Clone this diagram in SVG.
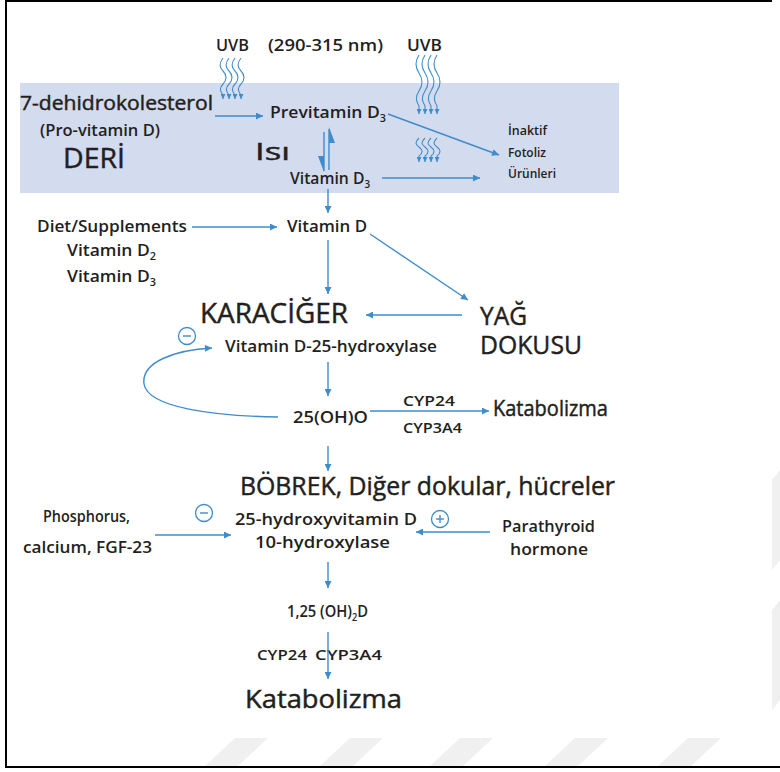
<svg xmlns="http://www.w3.org/2000/svg" width="780" height="772" viewBox="0 0 780 772">
<defs>
<style>
text{font-family:"Open Sans","Noto Sans","DejaVu Sans",sans-serif;fill:#231f20;font-weight:600}
.L{font-weight:400;stroke:#231f20;stroke-width:0.45}
.c{stroke:#3f8ccb;stroke-width:1.4;fill:none}
.w{stroke:#3f8ccb;stroke-width:1.1;fill:none}
.s14{font-size:16px}
.s13{font-size:15px}
.big{font-size:26px}
.sm{font-size:12.5px}
.wm{fill:#f0f0f0}
</style>
<marker id="ah" viewBox="0 0 10 10" refX="10" refY="5" markerWidth="8" markerHeight="7" markerUnits="userSpaceOnUse" orient="auto">
<path d="M0,0 L10,5 L0,10 z" fill="#3f8ccb"/>
</marker>
<marker id="wh" viewBox="0 0 10 10" refX="10" refY="5" markerWidth="5" markerHeight="5" markerUnits="userSpaceOnUse" orient="auto">
<path d="M0,0 L10,5 L0,10 z" fill="#3f8ccb"/>
</marker>
</defs>
<rect width="780" height="772" fill="#ffffff"/>
<g id="watermark">
<polygon class="wm" points="235,738 268,738 238,766 205,766"/>
<polygon class="wm" points="350,738 383,738 353,766 320,766"/>
<polygon class="wm" points="460,738 493,738 463,766 430,766"/>
<polygon class="wm" points="575,738 608,738 578,766 545,766"/>
<polygon class="wm" points="688,738 721,738 691,766 658,766"/>
<polygon class="wm" points="772,480 780,470 780,560 772,570"/>
<polygon class="wm" points="772,610 780,600 780,700 772,710"/>
</g>
<g id="frame" stroke="#000" stroke-width="2" fill="none">
<line x1="5" y1="1" x2="772" y2="1"/>
<line x1="6" y1="0" x2="6" y2="768"/>
<line x1="5" y1="767" x2="780" y2="767"/>
</g>
<g id="skin-band">
<rect x="20" y="83" width="599" height="110" fill="#d3dbef"/>
</g>
<g id="uvb-label-1"><text x="216" y="51" style="font-size:16px" textLength="33" lengthAdjust="spacingAndGlyphs">UVB</text></g>
<g id="wavelength"><text x="268" y="51" style="font-size:16.5px" textLength="115" lengthAdjust="spacingAndGlyphs">(290-315 nm)</text></g>
<g id="uvb-label-2"><text x="407" y="51" style="font-size:16px" textLength="35" lengthAdjust="spacingAndGlyphs">UVB</text></g>
<g id="uvb-rays">
<path class="w" marker-end="url(#wh)" d="M223,58 c-4,5 -4,9 0,13 s4,9 0,13 s-3,7 0,11 l0,4"/>
<path class="w" marker-end="url(#wh)" d="M229,58 c-4,5 -4,9 0,13 s4,9 0,13 s-3,7 0,11 l0,4"/>
<path class="w" marker-end="url(#wh)" d="M235,58 c-4,5 -4,9 0,13 s4,9 0,13 s-3,7 0,11 l0,4"/>
<path class="w" marker-end="url(#wh)" d="M241,58 c-4,5 -4,9 0,13 s4,9 0,13 s-3,7 0,11 l0,4"/>
<path class="w" marker-end="url(#wh)" d="M419,55 c-4,6 -4,12 0,18 s4,12 0,18 s-3,10 0,15 l0,8"/>
<path class="w" marker-end="url(#wh)" d="M425,55 c-4,6 -4,12 0,18 s4,12 0,18 s-3,10 0,15 l0,8"/>
<path class="w" marker-end="url(#wh)" d="M431,55 c-4,6 -4,12 0,18 s4,12 0,18 s-3,10 0,15 l0,8"/>
<path class="w" marker-end="url(#wh)" d="M437,55 c-4,6 -4,12 0,18 s4,12 0,18 s-3,10 0,15 l0,8"/>
<path class="w" marker-end="url(#wh)" d="M419,138 c-4,4 -4,6 0,9 s4,6 0,9 l0,6"/>
<path class="w" marker-end="url(#wh)" d="M425,138 c-4,4 -4,6 0,9 s4,6 0,9 l0,6"/>
<path class="w" marker-end="url(#wh)" d="M431,138 c-4,4 -4,6 0,9 s4,6 0,9 l0,6"/>
<path class="w" marker-end="url(#wh)" d="M437,138 c-4,4 -4,6 0,9 s4,6 0,9 l0,6"/>
</g>
<g id="dehidrokolesterol">
<text x="20" y="110" class="L" style="font-size:19.5px" textLength="193" lengthAdjust="spacingAndGlyphs">7-dehidrokolesterol</text>
<text x="40" y="136" style="font-size:15.5px" textLength="120" lengthAdjust="spacingAndGlyphs">(Pro-vitamin D)</text>
<text x="63" y="168" class="L" style="font-size:27px" textLength="62" lengthAdjust="spacingAndGlyphs">DERİ</text>
</g>
<g id="previtamin"><text x="270" y="118" style="font-size:17px" textLength="116" lengthAdjust="spacingAndGlyphs">Previtamin D<tspan style="font-size:10.5px" baseline-shift="-4">3</tspan></text></g>
<g id="isi"><text x="255" y="160" class="L" style="font-size:23px" textLength="35" lengthAdjust="spacingAndGlyphs">Isı</text></g>
<g id="vitamin-d3-skin"><text x="290" y="184" class="s14" textLength="80" lengthAdjust="spacingAndGlyphs">Vitamin D<tspan style="font-size:10px" baseline-shift="-4">3</tspan></text></g>
<g id="fotoliz">
<text x="508" y="135" class="sm" textLength="39" lengthAdjust="spacingAndGlyphs">İnaktif</text>
<text x="508" y="157" class="sm" textLength="38" lengthAdjust="spacingAndGlyphs">Fotoliz</text>
<text x="508" y="178" class="sm" textLength="48" lengthAdjust="spacingAndGlyphs">Ürünleri</text>
</g>
<g id="diet">
<text x="37" y="232" class="s14" textLength="150" lengthAdjust="spacingAndGlyphs">Diet/Supplements</text>
<text x="67" y="256" class="s14" textLength="89" lengthAdjust="spacingAndGlyphs">Vitamin D<tspan style="font-size:10px" baseline-shift="-4">2</tspan></text>
<text x="67" y="282" class="s14" textLength="89" lengthAdjust="spacingAndGlyphs">Vitamin D<tspan style="font-size:10px" baseline-shift="-4">3</tspan></text>
</g>
<g id="vitamin-d"><text x="287" y="232" class="s14" textLength="80" lengthAdjust="spacingAndGlyphs">Vitamin D</text></g>
<g id="karaciger"><text x="200" y="323" class="L" style="font-size:28px" textLength="148" lengthAdjust="spacingAndGlyphs">KARACİĞER</text></g>
<g id="yag-dokusu">
<text x="480" y="325" class="big L" textLength="47" lengthAdjust="spacingAndGlyphs">YAĞ</text>
<text x="480" y="354" class="big L" textLength="102" lengthAdjust="spacingAndGlyphs">DOKUSU</text>
</g>
<g id="hydroxylase-25">
<circle cx="187" cy="336" r="8.5" fill="none" stroke="#3f8ccb" stroke-width="1.3"/>
<line x1="183" y1="336" x2="191" y2="336" stroke="#3f8ccb" stroke-width="1.4"/>
<text x="225" y="352" class="s14" textLength="212" lengthAdjust="spacingAndGlyphs">Vitamin D-25-hydroxylase</text>
</g>
<g id="oh-d-25"><text x="293" y="423" class="s14" textLength="75" lengthAdjust="spacingAndGlyphs">25(OH)O</text></g>
<g id="cyp-labels-1">
<text x="403" y="406" class="s13" textLength="52" lengthAdjust="spacingAndGlyphs">CYP24</text>
<text x="403" y="433" class="s13" textLength="59" lengthAdjust="spacingAndGlyphs">CYP3A4</text>
</g>
<g id="katabolizma-1"><text x="493" y="416" class="L" style="font-size:21px" textLength="115" lengthAdjust="spacingAndGlyphs">Katabolizma</text></g>
<g id="bobrek"><text x="240" y="495" class="L" style="font-size:25px" textLength="375" lengthAdjust="spacingAndGlyphs">BÖBREK, Diğer dokular, hücreler</text></g>
<g id="hydroxylase-1a">
<circle cx="204" cy="513" r="8.5" fill="none" stroke="#3f8ccb" stroke-width="1.3"/>
<line x1="200" y1="513" x2="208" y2="513" stroke="#3f8ccb" stroke-width="1.4"/>
<circle cx="440" cy="519" r="8.5" fill="none" stroke="#3f8ccb" stroke-width="1.3"/>
<line x1="436" y1="519" x2="444" y2="519" stroke="#3f8ccb" stroke-width="1.4"/>
<line x1="440" y1="515" x2="440" y2="523" stroke="#3f8ccb" stroke-width="1.4"/>
<text x="235" y="525" class="s14" textLength="182" lengthAdjust="spacingAndGlyphs">25-hydroxyvitamin D</text>
<text x="255" y="548" class="s14" textLength="135" lengthAdjust="spacingAndGlyphs">10-hydroxylase</text>
</g>
<g id="phosphorus">
<text x="43" y="522" class="s14" textLength="87" lengthAdjust="spacingAndGlyphs">Phosphorus,</text>
<text x="23" y="553" class="s14" textLength="129" lengthAdjust="spacingAndGlyphs">calcium, FGF-23</text>
</g>
<g id="parathyroid">
<text x="502" y="532" class="s14" textLength="93" lengthAdjust="spacingAndGlyphs">Parathyroid</text>
<text x="510" y="555" class="s14" textLength="78" lengthAdjust="spacingAndGlyphs">hormone</text>
</g>
<g id="oh2-d"><text x="287" y="617" style="font-size:16px" textLength="81" lengthAdjust="spacingAndGlyphs">1,25 (OH)<tspan style="font-size:10px" baseline-shift="-4">2</tspan>D</text></g>
<g id="cyp-labels-2">
<text x="257" y="660" class="s13" textLength="50" lengthAdjust="spacingAndGlyphs">CYP24</text>
<text x="315" y="660" class="s13" textLength="67" lengthAdjust="spacingAndGlyphs">CYP3A4</text>
</g>
<g id="katabolizma-2"><text x="245" y="708" class="L" style="font-size:25px" textLength="157" lengthAdjust="spacingAndGlyphs">Katabolizma</text></g>
<g id="connectors">
<line class="c" marker-end="url(#ah)" x1="215" y1="116" x2="263" y2="116"/>
<line class="c" marker-end="url(#ah)" x1="388" y1="114" x2="499" y2="155"/>
<line class="c" marker-end="url(#ah)" x1="382" y1="178" x2="480" y2="178"/>
<line class="c" x1="329" y1="170" x2="329" y2="129"/>
<polygon points="329,127 335,143 329,143" fill="#3f8ccb"/>
<line class="c" x1="324" y1="132" x2="324" y2="171"/>
<polygon points="324,172 318,156 324,156" fill="#3f8ccb"/>
<line class="c" marker-end="url(#ah)" x1="328" y1="189" x2="328" y2="213"/>
<line class="c" marker-end="url(#ah)" x1="192" y1="227" x2="277" y2="227"/>
<line class="c" marker-end="url(#ah)" x1="328" y1="240" x2="328" y2="294"/>
<line class="c" marker-end="url(#ah)" x1="370" y1="234" x2="468" y2="300"/>
<line class="c" marker-end="url(#ah)" x1="462" y1="315" x2="366" y2="315"/>
<line class="c" marker-end="url(#ah)" x1="328" y1="362" x2="328" y2="396"/>
<path class="c" marker-end="url(#ah)" d="M278,417 C215,416 148,408 144,384 C141,362 175,350 212,348"/>
<line class="c" marker-end="url(#ah)" x1="370" y1="411" x2="489" y2="411"/>
<line class="c" marker-end="url(#ah)" x1="328" y1="446" x2="328" y2="471"/>
<line class="c" marker-end="url(#ah)" x1="155" y1="535" x2="231" y2="535"/>
<line class="c" marker-end="url(#ah)" x1="490" y1="532" x2="416" y2="532"/>
<line class="c" marker-end="url(#ah)" x1="328" y1="562" x2="328" y2="588"/>
<line class="c" marker-end="url(#ah)" x1="328" y1="632" x2="328" y2="679"/>
</g>
</svg>
